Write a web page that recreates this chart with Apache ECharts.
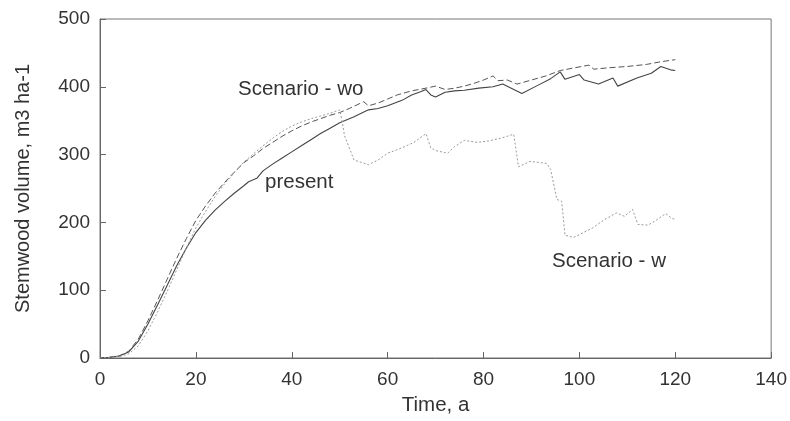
<!DOCTYPE html>
<html>
<head>
<meta charset="utf-8">
<script src="https://cdn.jsdelivr.net/npm/echarts@6/dist/echarts.min.js"></script>
<style>
html,body{margin:0;padding:0;background:#fff;}
#chart{width:790px;height:421px;}
</style>
</head>
<body>
<div id="chart"></div>
<script>
// Time ticks / value ticks
var xTicks = [0, 20, 40, 60, 80, 100, 120, 140];
var yTicks = [0, 100, 200, 300, 400, 500];

// present
var presentT = [0, 2, 4, 6, 8, 10, 12, 14, 16, 18, 20, 22, 24, 26, 28, 30, 31, 32.7, 34, 36, 38, 40, 42, 44, 46, 48, 50,
  53, 56, 58, 60, 63, 65, 67, 68, 69, 70, 72, 74, 76, 79, 82, 84, 86, 88, 91, 94, 96, 97, 100, 101, 104, 107, 108, 112, 115, 117, 119, 120];
var presentV = [0, 1, 3, 9, 25, 50, 78, 107, 136, 162, 185, 203, 218, 231, 243, 254, 260, 265, 276, 286, 295, 304, 313, 322, 331, 339, 347,
  356, 366, 368, 372, 380, 388, 393, 396, 388, 385, 392, 394, 395, 398, 400, 404, 397, 390, 401, 412, 422, 411, 418, 410, 404, 413, 401, 413, 420, 430, 425, 424];

// Scenario - wo
var woT = [0, 2, 4, 6, 8, 10, 12, 14, 16, 18, 20, 22, 24, 26, 28, 30, 32, 34, 36, 38, 40, 42, 44, 46, 48, 50,
  52, 55, 56, 58, 60, 62, 65, 68, 70, 72, 74, 76, 78, 80, 82, 83, 85, 87, 90, 93, 96, 99, 102, 103, 106, 110, 114, 117, 120];
var woV = [0, 1, 3, 10, 28, 55, 85, 116, 147, 176, 203, 224, 243, 259, 274, 288, 298, 309, 318, 327, 335, 342, 348, 353, 358, 362,
  368, 378, 372, 376, 382, 388, 394, 398, 401, 396, 398, 401, 405, 410, 416, 409, 410, 404, 410, 416, 424, 428, 432, 426, 428, 430, 433, 437, 440];

// Scenario - w
var wT = [0, 2, 4, 6, 8, 10, 12, 14, 16, 18, 20, 22, 24, 26, 28, 30, 32, 34, 36, 38, 40, 42, 44, 46, 48, 50,
  50.5, 51, 53, 56, 58, 60, 63, 65.5, 68, 69, 70, 72.5, 74, 76, 78.7, 81, 83.5, 86.3, 87.3, 89.7, 93.2, 94, 95.3, 96.3, 97, 98.8, 100, 102.8, 105, 107.7, 109.4, 111.1, 112.2, 114.3, 116, 118, 119.1, 120];
var wV = [0, 1, 2, 6, 18, 40, 68, 98, 130, 162, 192, 216, 238, 257, 273, 289, 301, 313, 324, 334, 342, 348, 353, 357, 361, 366,
  350, 328, 292, 285, 292, 302, 310, 318, 331, 310, 306, 302, 312, 321, 318, 320, 324, 330, 282, 290, 287, 278, 234, 231, 181, 178, 182, 192, 203, 214, 209, 219, 197, 196, 203, 213, 207, 204];

function zip(t, v) { return t.map(function (x, i) { return [x, v[i]]; }); }

var chart = echarts.init(document.getElementById('chart'), null, {renderer: 'canvas'});
var font = 'Liberation Sans, Arial, Helvetica, sans-serif';
chart.setOption({
  animation: false,
  backgroundColor: '#fff',
  grid: {left: 100, right: 14, top: 19, bottom: 59, show: true, borderColor: '#777', borderWidth: 1, backgroundColor: 'transparent'},
  xAxis: {
    type: 'value', min: xTicks[0], max: xTicks[xTicks.length - 1], interval: 20,
    name: 'Time, a', nameLocation: 'middle', nameGap: 37,
    nameTextStyle: {fontFamily: font, fontSize: 20.5, color: '#333'},
    axisLine: {show: true, lineStyle: {color: '#666', width: 1}},
    axisTick: {show: true, inside: true, length: 6, lineStyle: {color: '#666'}},
    axisLabel: {fontFamily: font, fontSize: 19, color: '#333', margin: 12},
    splitLine: {show: false}
  },
  yAxis: {
    type: 'value', min: yTicks[0], max: yTicks[yTicks.length - 1], interval: 100,
    name: 'Stemwood volume, m3 ha-1', nameLocation: 'middle', nameGap: 67, nameRotate: 90,
    nameTextStyle: {fontFamily: font, fontSize: 20, color: '#333'},
    axisLine: {show: true, lineStyle: {color: '#666', width: 1}},
    axisTick: {show: true, inside: true, length: 6, lineStyle: {color: '#666'}},
    axisLabel: {fontFamily: font, fontSize: 19, color: '#333', margin: 10},
    splitLine: {show: false}
  },
  series: [
    {name: 'present', type: 'line', data: zip(presentT, presentV), showSymbol: false, symbol: 'none',
      lineStyle: {color: '#444', width: 1.1, type: 'solid'}},
    {name: 'Scenario - wo', type: 'line', data: zip(woT, woV), showSymbol: false, symbol: 'none',
      lineStyle: {color: '#555', width: 1, type: [6, 3]}},
    {name: 'Scenario - w', type: 'line', data: zip(wT, wV), showSymbol: false, symbol: 'none',
      lineStyle: {color: '#9a9a9a', width: 1, type: [2, 2]}}
  ],
  graphic: [
    {type: 'text', left: 238, top: 79, style: {text: 'Scenario - wo', fontFamily: font, fontSize: 20.5, fill: '#333'}},
    {type: 'text', left: 265, top: 172, style: {text: 'present', fontFamily: font, fontSize: 20.5, fill: '#333'}},
    {type: 'text', left: 552, top: 251, style: {text: 'Scenario - w', fontFamily: font, fontSize: 20.5, fill: '#333'}}
  ]
});
</script>
</body>
</html>
